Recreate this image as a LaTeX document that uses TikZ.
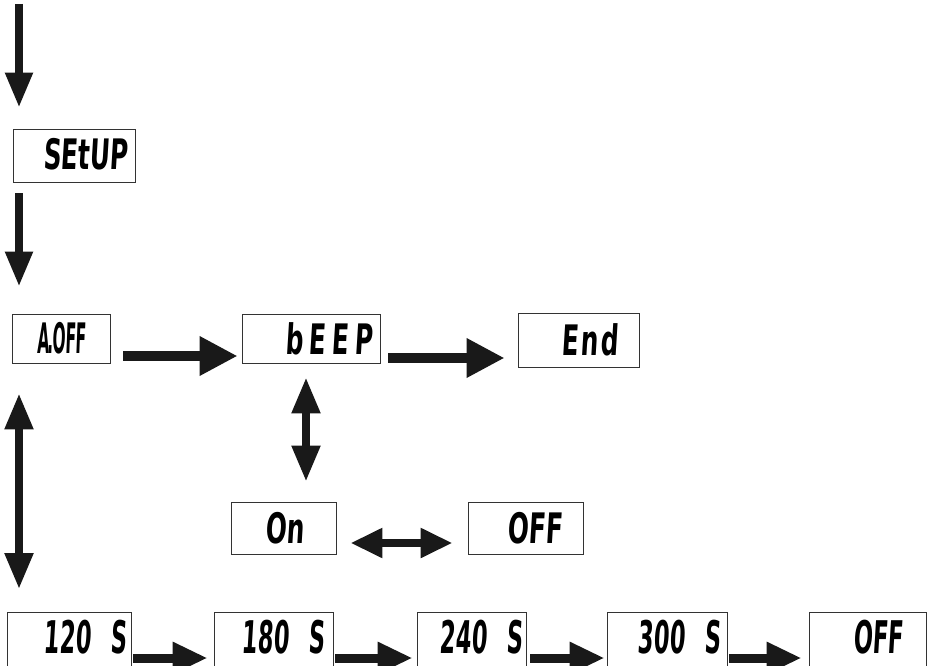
\documentclass[tikz,border=0pt]{standalone}
\usepackage{fontspec}
\newfontfamily\lcdfont[FakeStretch=0.59,FakeSlant=0.06]{DejaVu Sans}
\newfontfamily\lcdtall[FakeStretch=0.5,FakeSlant=0.06]{DejaVu Sans}
\usetikzlibrary{arrows.meta}
\tikzset{
	disp/.style={draw=black!80, line width=0.8pt, inner ysep=0pt, align=right, font=\lcdfont\bfseries\fontsize{42}{42}\selectfont},
	dispb/.style={disp, draw=none, font=\lcdtall\bfseries\fontsize{45}{45}\selectfont},
	vtip/.style={line width=8pt, color=black!90, -{Triangle[length=35pt,width=26pt]}},
	vboth/.style={line width=8pt, color=black!90, {Triangle[length=36pt,width=27pt]}-{Triangle[length=36pt,width=27pt]}},
	htip/.style={line width=10pt, color=black!90, -{Triangle[length=38pt,width=37pt]}},
	hboth/.style={line width=8pt, color=black!90, {Triangle[length=32pt,width=28pt]}-{Triangle[length=32pt,width=28pt]}},
	btip/.style={line width=9pt, color=black!90, -{Triangle[length=35pt,width=30pt]}},
	cutbox/.style={draw=black!80, line width=0.8pt}
}

\begin{document}
\begin{tikzpicture}[x=1pt, y=-1pt]
			%%%%% START %%%%%
			\useasboundingbox (0, 0) rectangle (927, 666);
			
			\coordinate (start) at (19, 4);
			\node[disp, minimum height=53, text width=108, inner xsep=7] (setup) at (74, 155.5) {\raisebox{4pt}{SEtUP}};
			
			\node[disp, minimum height=49, text width=48, inner xsep=25] (aoff) at (61, 338.5) {\scalebox{0.62}[1]{A\kern-2pt.\kern-2pt OFF}};
			\node[disp, minimum height=49, text width=124, inner xsep=7] (beep) at (311, 338.5) {b\kern6pt E\kern6pt E\kern6pt P};
			\node[disp, minimum height=54, text width=79, inner xsep=21] (endb) at (578.5, 340) {E\kern2pt n\kern2pt d};
			
			\node[disp, minimum height=52, text width=37, inner xsep=34] (on) at (283.5, 528) {On};
			\node[disp, minimum height=52, text width=73, inner xsep=21] (offb) at (525.5, 528) {OFF};
			
			% bottom row runs off the lower edge, so no bottom line
			\node[dispb, minimum height=50, text width=115, inner xsep=4] (t120) at (69.5, 637.5) {120\hspace{20pt}S};
			\node[dispb, minimum height=50, text width=102, inner xsep=8] (t180) at (274, 637.5) {180\hspace{20pt}S};
			\node[dispb, minimum height=50, text width=102, inner xsep=3] (t240) at (472, 637.5) {240\hspace{20pt}S};
			\node[dispb, minimum height=50, text width=107, inner xsep=6] (t300) at (667.5, 637.5) {300\hspace{20pt}S};
			\node[dispb, minimum height=50, text width=70, inner xsep=23] (toff) at (868, 637.5) {OFF};
			\foreach \b in {t120, t180, t240, t300, toff}
				\draw[cutbox] ([yshift=-4pt]\b.south west) |- (\b.north east) -- ([yshift=-4pt]\b.south east);
			
			\draw[vtip, shorten >=21pt] (start) -- (start |- setup.north);
			\draw[vtip, shorten <=11pt, shorten >=27pt] (setup.south -| start) -- (aoff.north -| start);
			\draw[vboth, shorten <=30pt, shorten >=23pt] (aoff.south -| start) -- (t120.north -| start);
			
			\draw[htip, shorten <=13pt, shorten >=4pt] ([yshift=-17.5pt]aoff.east) -- ([yshift=-17.5pt]aoff.east -| beep.west);
			\draw[htip, shorten <=8pt, shorten >=13pt] ([yshift=-19.5pt]beep.east) -- ([yshift=-19.5pt]beep.east -| endb.west);
			\draw[vboth, shorten <=14pt, shorten >=20pt] ([xshift=-5pt]beep.south) -- ([xshift=-5pt]beep.south |- on.north);
			\draw[hboth, shorten <=14pt, shorten >=15pt] ([yshift=-15pt]on.east) -- ([yshift=-15pt]on.east -| offb.west);
			
			\draw[btip, shorten <=2pt, shorten >=7pt] ([yshift=-20.5pt]t120.east) -- ([yshift=-20.5pt]t120.east -| t180.west);
			\draw[btip, shorten <=2pt, shorten >=5pt] ([yshift=-20.5pt]t180.east) -- ([yshift=-20.5pt]t180.east -| t240.west);
			\draw[btip, shorten <=4pt, shorten >=3pt] ([yshift=-20.5pt]t240.east) -- ([yshift=-20.5pt]t240.east -| t300.west);
			\draw[btip, shorten <=2pt, shorten >=8pt] ([yshift=-20.5pt]t300.east) -- ([yshift=-20.5pt]t300.east -| toff.west);
			%%%%% END %%%%%
\end{tikzpicture}
\end{document}
